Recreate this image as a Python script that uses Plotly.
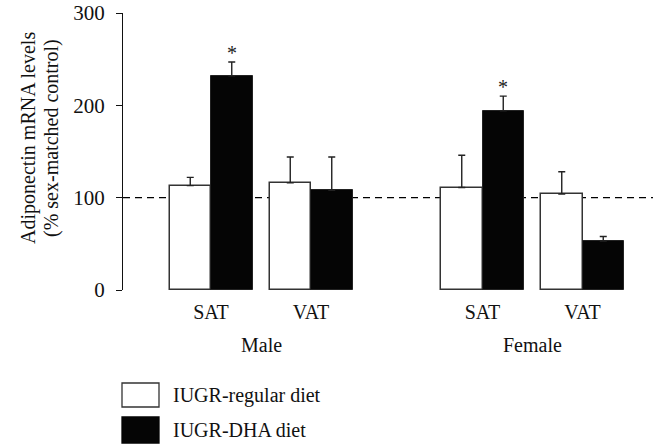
import plotly.graph_objects as go

# Adiponectin mRNA levels, % of sex-matched control
sexes = ["Male", "Female"]
depots = ["SAT", "VAT"]
regular_diet = [113, 116, 111, 104]      # IUGR-regular diet: M-SAT, M-VAT, F-SAT, F-VAT
regular_err = [9, 28, 35, 24]
dha_diet = [232, 108, 194, 53]           # IUGR-DHA diet
dha_err = [15, 36, 16, 5]
significant = [True, False, True, False]  # * marks on DHA bars
series_names = ["IUGR-regular diet", "IUGR-DHA diet"]
y_title = ["Adiponectin mRNA levels", "(% sex-matched control)"]
y_ticks = [0, 100, 200, 300]

FONT = "Liberation Serif"
FS = 20
W, H = 653, 446
ML, MR, MT, MB = 123, 0, 13, 156
PW, PH = W - ML - MR, H - MT - MB

SEX_GAP = 2.715   # offset of the female block on the x axis
BAR_W = 0.415
x_pos = [d + s * SEX_GAP for s in range(len(sexes)) for d in range(len(depots))]
x_text = [d for _ in sexes for d in depots]


def px_x(p):
    return (p - ML) / PW


def px_y(p):
    return (H - MB - p) / PH


err_style = dict(type="data", symmetric=False, color="#222222", thickness=1.4, width=3.5)

fig = go.Figure()
fig.add_trace(go.Bar(
    x=x_pos, y=regular_diet, name=series_names[0],
    offset=-BAR_W, width=BAR_W,
    marker=dict(color="white", line=dict(color="#333333", width=1.5)),
    error_y=dict(array=regular_err, arrayminus=[0] * 4, **err_style),
    showlegend=False,
))
fig.add_trace(go.Bar(
    x=x_pos, y=dha_diet, name=series_names[1],
    offset=0, width=BAR_W,
    marker=dict(color="#050505", line=dict(color="#222222", width=1)),
    error_y=dict(array=dha_err, arrayminus=[0] * 4, **err_style),
    showlegend=False,
))

# reference level (100 % of control)
fig.add_shape(type="line", xref="paper", yref="y", x0=0, x1=1, y0=100, y1=100,
              line=dict(color="black", width=1.3, dash="7px,5px"), layer="below")

annotations = []
# significance stars
for x, v, e, sig in zip(x_pos, dha_diet, dha_err, significant):
    if sig:
        annotations.append(dict(x=x + BAR_W / 2, y=v + e, xref="x", yref="y",
                                text="*", showarrow=False, yanchor="bottom",
                                yshift=-4, font=dict(family=FONT, size=FS, color="#222")))
# sex group labels
for s, sex in enumerate(sexes):
    xc = (x_pos[2 * s] + x_pos[2 * s + 1]) / 2
    annotations.append(dict(x=xc, y=px_y(345), xref="x", yref="paper", text=sex,
                            showarrow=False, yanchor="middle",
                            font=dict(family=FONT, size=FS, color="#111")))
# y axis title, two lines
for line, xc in zip(y_title, [28, 51]):
    annotations.append(dict(x=px_x(xc), y=px_y(138), xref="paper", yref="paper",
                            text=line, textangle=-90, showarrow=False,
                            xanchor="center", yanchor="middle",
                            font=dict(family=FONT, size=FS, color="#111")))

# legend
fills = [("white", "#333333"), ("#050505", "#050505")]
rows = [(383, 407), (417, 443)]
for (fill, edge), (y0, y1), name in zip(fills, rows, series_names):
    fig.add_shape(type="rect", xref="paper", yref="paper",
                  x0=px_x(122), x1=px_x(159), y0=px_y(y1), y1=px_y(y0),
                  fillcolor=fill, line=dict(color=edge, width=1.3))
    annotations.append(dict(x=px_x(171), y=px_y((y0 + y1) / 2), xref="paper", yref="paper",
                            text=name, showarrow=False, xanchor="left", yanchor="middle",
                            font=dict(family=FONT, size=FS, color="#111")))

fig.update_layout(
    width=W, height=H,
    margin=dict(l=ML, r=MR, t=MT, b=MB, pad=0),
    paper_bgcolor="white", plot_bgcolor="white",
    font=dict(family=FONT, size=FS, color="#111"),
    annotations=annotations,
    bargap=0,
    xaxis=dict(range=[-0.88, 4.42], tickvals=x_pos, ticktext=x_text,
               showline=False, showgrid=False, zeroline=False, ticks="",
               ticklabelstandoff=8, fixedrange=True),
    yaxis=dict(range=[0, 300], tickvals=y_ticks, showline=True, linecolor="#111",
               linewidth=1.3, ticks="outside", ticklen=6, tickwidth=1.3, tickcolor="#111",
               tickfont=dict(size=21),
               showgrid=False, zeroline=False, ticklabelstandoff=7, fixedrange=True),
)

fig.write_html("out.html")
